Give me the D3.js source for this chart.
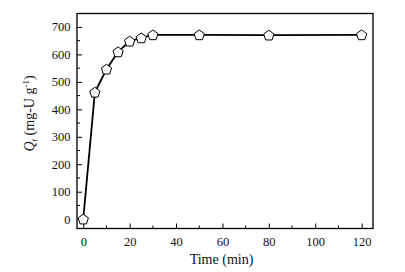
<!DOCTYPE html>
<html><head><meta charset="utf-8">
<script src="https://cdn.jsdelivr.net/npm/d3@7"></script>
<style>body{margin:0;background:#fff;} svg{display:block;}</style>
</head><body><svg id="c" width="405" height="272" font-family="Liberation Serif"></svg>
<script>
const times = [0, 5, 10, 15, 20, 25, 30, 50, 80, 120];
const qt = [0, 462, 546, 609, 648, 660, 671, 671, 670, 671];
const xTicks = [0, 20, 40, 60, 80, 100, 120];
const yTicks = [0, 100, 200, 300, 400, 500, 600, 700];

const FONT = "'Liberation Serif', 'Times New Roman', serif";
const svg = d3.select("#c");
const L = 77, R = 373, T = 13.5, B = 228.5;
const x = d3.scaleLinear().domain([-2.7, 124.9]).range([L, R]);
const y = d3.scaleLinear().domain([-34, 749]).range([B, T]);

const g = svg.append("g");
const xMinor = d3.range(10, 125, 20);
const yMinor = d3.range(50, 750, 100);
g.selectAll(".xm").data(xMinor).join("line").attr("x1", d=>x(d)).attr("x2", d=>x(d)).attr("y1", B).attr("y2", B-3).attr("stroke","#000").attr("stroke-width",1);
g.selectAll(".ym").data(yMinor).join("line").attr("y1", d=>y(d)).attr("y2", d=>y(d)).attr("x1", L).attr("x2", L+3).attr("stroke","#000").attr("stroke-width",1);

const xAxis = d3.axisBottom(x).tickValues(xTicks).tickSizeInner(-5).tickSizeOuter(0).tickPadding(9);
const yAxis = d3.axisLeft(y).tickValues(yTicks).tickSizeInner(-5).tickSizeOuter(0).tickPadding(6.5);
const gx = svg.append("g").attr("transform", `translate(0,${B})`).call(xAxis);
const gy = svg.append("g").attr("transform", `translate(${L},0)`).call(yAxis);
[gx, gy].forEach(a => { a.attr("font-family", FONT); a.select(".domain").remove(); a.selectAll("text").style("font-size","12.5px").style("font-family", FONT).attr("fill","#111"); a.selectAll("line").attr("stroke-width",1); });

svg.append("rect").attr("x", L).attr("y", T).attr("width", R-L).attr("height", B-T).attr("fill","none").attr("stroke","#000").attr("stroke-width",1.3);

const line = d3.line().x((d,i)=>x(times[i])).y(d=>y(d));
svg.append("path").datum(qt).attr("d", line).attr("fill","none").attr("stroke","#000").attr("stroke-width",1.8);

const r = 5.4;
const pts = d3.range(5).map(k => { const a = -Math.PI/2 + k*2*Math.PI/5; return [r*Math.cos(a), r*Math.sin(a) + 0.4]; });
svg.selectAll(".pt").data(qt).join("path")
  .attr("d", "M" + pts.map(p=>p.join(",")).join("L") + "Z")
  .attr("transform", (d,i)=>`translate(${x(times[i])},${y(d)})`)
  .attr("fill","#fff").attr("stroke","#000").attr("stroke-width",1);

svg.append("text").attr("x", 221.5).attr("y", 264).attr("text-anchor","middle").style("font-family", FONT).style("font-size","14px").attr("fill","#111").text("Time (min)");

const yl = svg.append("text").attr("transform", `translate(34,113.5) rotate(-90)`).attr("text-anchor","middle").style("font-family", FONT).style("font-size","14px").attr("fill","#111");
yl.append("tspan").style("font-style","italic").text("Q");
yl.append("tspan").style("font-style","italic").style("font-size","9px").attr("dy","3").text("t");
yl.append("tspan").attr("dy","-3").text(" (mg-U g");
yl.append("tspan").style("font-size","9px").attr("dy","-5").text("-1");
yl.append("tspan").attr("dy","5").text(")");
</script></body></html>
